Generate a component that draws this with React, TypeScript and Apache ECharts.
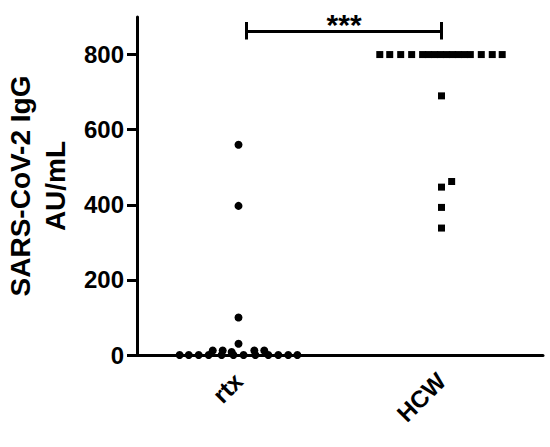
import React, { useEffect, useRef } from "react";
import * as echarts from "echarts";

const categories = ["rtx", "HCW"];
const yTickValues = [0, 200, 400, 600, 800];

// rtx group: values and horizontal scatter offsets (fraction of category spacing)
const rtxValues = [0, 0, 0, 0, 0, 0, 0, 0, 0, 0, 0, 0, 12, 12, 8, 12, 12, 30, 100, 397, 560];
const rtxOffsets = [-0.29, -0.245, -0.196, -0.147, -0.083, -0.025, 0.025, 0.083, 0.147, 0.196, 0.245, 0.29, -0.127, -0.078, -0.034, 0.078, 0.127, 0, 0, 0, 0];

// HCW group
const hcwValues = [800, 800, 800, 800, 800, 800, 800, 800, 800, 800, 800, 800, 800, 800, 800, 800, 690, 462, 447, 393, 338];
const hcwOffsets = [-0.304, -0.255, -0.201, -0.147, -0.093, -0.064, -0.034, -0.005, 0.025, 0.054, 0.083, 0.113, 0.142, 0.196, 0.25, 0.299, 0, 0.05, 0, 0, 0];

// significance bracket
const bracketFrom = 1.04;
const bracketTo = 2.0;
const bracketY = 862;
const bracketCapLow = 840;
const bracketCapHigh = 887;
const sigLabel = "***";

const FONT = "'Liberation Sans', Arial, sans-serif";

export default function App() {
  const ref = useRef<HTMLDivElement>(null);
  useEffect(() => {
    if (!ref.current) return;
    const chart = echarts.init(ref.current, undefined, { renderer: "svg" });
    const rtxData = rtxValues.map((v, i) => [1 + rtxOffsets[i], v]);
    const hcwData = hcwValues.map((v, i) => [2 + hcwOffsets[i], v]);
    chart.setOption({
      animation: false,
      backgroundColor: "#fff",
      grid: { left: 137, right: 7, top: 17, bottom: 92, containLabel: false, outerBoundsMode: "none" },
      xAxis: [
        {
          type: "category",
          data: categories,
          boundaryGap: true,
          axisLine: { lineStyle: { color: "#000", width: 3 } },
          axisTick: { alignWithLabel: true, length: 10, lineStyle: { color: "#000", width: 3 } },
          axisLabel: {
            rotate: 45,
            margin: 22,
            color: "#000",
            fontWeight: "bold",
            fontSize: 24,
            fontFamily: FONT,
          },
          splitLine: { show: false },
        },
        { type: "value", min: 0.5, max: 2.5, show: false },
      ],
      yAxis: {
        type: "value",
        min: 0,
        max: 900,
        interval: 100,
        name: "SARS-CoV-2 IgG\nAU/mL",
        nameLocation: "middle",
        nameRotate: 90,
        nameGap: 61,
        nameTextStyle: {
          color: "#000",
          fontWeight: "bold",
          fontSize: 28,
          fontFamily: FONT,
          lineHeight: 35,
        },
        axisLine: { show: true, lineStyle: { color: "#000", width: 3 } },
        axisTick: { show: true, length: 10, customValues: yTickValues, lineStyle: { color: "#000", width: 3 } },
        axisLabel: {
          customValues: yTickValues,
          margin: 13,
          color: "#000",
          fontWeight: "bold",
          fontSize: 24,
          fontFamily: FONT,
        },
        splitLine: { show: false },
      },
      series: [
        {
          type: "scatter",
          xAxisIndex: 1,
          symbol: "circle",
          symbolSize: 8,
          itemStyle: { color: "#000", opacity: 1 },
          data: rtxData,
        },
        {
          type: "scatter",
          xAxisIndex: 1,
          symbol: "rect",
          symbolSize: 7,
          itemStyle: { color: "#000", opacity: 1 },
          data: hcwData,
        },
        {
          type: "lines",
          coordinateSystem: "cartesian2d",
          xAxisIndex: 1,
          lineStyle: { color: "#000", width: 3, opacity: 1 },
          data: [
            { coords: [[bracketFrom, bracketY], [bracketTo, bracketY]] },
            { coords: [[bracketFrom, bracketCapLow], [bracketFrom, bracketCapHigh]] },
            { coords: [[bracketTo, bracketCapLow], [bracketTo, bracketCapHigh]] },
          ],
        },
        {
          type: "scatter",
          xAxisIndex: 1,
          symbolSize: 0,
          silent: true,
          itemStyle: { opacity: 1 },
          label: {
            show: true,
            position: "top",
            distance: -8,
            formatter: sigLabel,
            color: "#000",
            opacity: 1,
            fontWeight: "bold",
            fontSize: 30,
            fontFamily: FONT,
          },
          data: [[(bracketFrom + bracketTo) / 2, bracketY]],
        },
      ],
    });
    return () => chart.dispose();
  }, []);
  return <div ref={ref} style={{ position: "fixed", left: 0, top: 0, width: 550, height: 447 }} />;
}
